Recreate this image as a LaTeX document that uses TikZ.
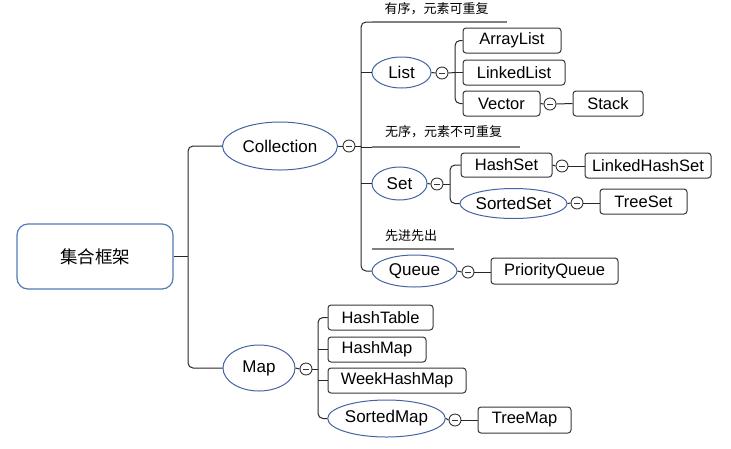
\documentclass[tikz,border=0pt]{standalone}
\usepackage{fontspec}
\setmainfont{Liberation Sans}
\newfontfamily\cjk{Noto Sans CJK SC}
\usetikzlibrary{shapes.geometric}
\definecolor{ellblue}{RGB}{68,100,165}
\definecolor{rootblue}{RGB}{80,125,180}
\definecolor{boxgray}{RGB}{55,55,55}
\definecolor{conngray}{RGB}{40,40,40}
\definecolor{ulgray}{RGB}{128,128,128}
\tikzset{
  rootbox/.style={draw=rootblue, line width=1.2pt, rounded corners=11pt, fill=white,
    minimum width=156pt, minimum height=65pt, inner sep=0pt, font=\cjk\fontsize{17.5}{20}\selectfont},
  ell/.style={ellipse, draw=ellblue, line width=1pt, inner sep=0pt, fill=white,
    font=\fontsize{17}{19}\selectfont},
  itembox/.style={rectangle, draw=boxgray, line width=1pt, rounded corners=3pt, inner sep=0pt,
    minimum height=25pt, fill=white, font=\fontsize{16.5}{19}\selectfont},
  tog/.style={circle, draw=boxgray, line width=0.9pt, minimum size=12pt, inner sep=0pt, fill=white,
    path picture={\draw[boxgray, line width=0.6pt] ([xshift=-3pt]path picture bounding box.center) -- ([xshift=3pt]path picture bounding box.center);}},
  lbl/.style={inner sep=0pt, font=\cjk\fontsize{13}{15}\selectfont},
  conn/.style={draw=conngray, line width=1pt, rounded corners=5pt},
  ul/.style={draw=ulgray, line width=2.6pt},
}
\begin{document}
\begin{tikzpicture}[x=1pt,y=-1pt]
\useasboundingbox (0,0) rectangle (731,448);
% junction coordinates
\coordinate (j0) at (188,256.5);
\coordinate (v1) at (361,146);
\coordinate (v2) at (455,72.5);
\coordinate (v3) at (450,184);
\coordinate (v4) at (318,369);
% label underline coordinates
\coordinate (u1a) at (372,22);  \coordinate (u1b) at (507,22);
\coordinate (u2a) at (372,147); \coordinate (u2b) at (520,147);
\coordinate (u3a) at (372,249); \coordinate (u3b) at (454,249);

% nodes
\node[rootbox] (root) at (95,256.5) {集合框架};
\node[ell, minimum width=115pt, minimum height=48pt] (coll) at (280,146) {Collection};
\node[ell, minimum width=72pt, minimum height=46pt] (map) at (259,368) {Map};
\node[tog] (t1) at (349,146) {};
\node[tog] (t8) at (306,369) {};

\node[lbl] (l1) at (436.5,9) {有序，元素可重复};
\node[lbl] (l2) at (443.5,132) {无序，元素不可重复};
\node[lbl] (l3) at (411,236) {先进先出};

\node[ell, minimum width=59pt, minimum height=31pt] (list) at (401.5,72.5) {List};
\node[tog] (t2) at (442,73) {};
\node[itembox, minimum width=98pt] (al) at (512,40.5) {ArrayList};
\node[itembox, minimum width=102pt] (ll) at (514,72.5) {LinkedList};
\node[itembox, minimum width=77pt] (vec) at (501.5,103.5) {Vector};
\node[tog] (t3) at (550,104) {};
\node[itembox, minimum width=70pt] (stack) at (608,103.5) {Stack};

\node[ell, minimum width=55pt, minimum height=33pt] (set) at (399.5,183.5) {Set};
\node[tog] (t4) at (437,184) {};
\node[itembox, minimum width=91pt, minimum height=24pt] (hs) at (506.5,165) {HashSet};
\node[tog] (t5) at (562,166) {};
\node[itembox, minimum width=126pt] (lhs) at (648,165.5) {LinkedHashSet};
\node[ell, minimum width=107pt, minimum height=30pt] (ss) at (513.5,203.5) {SortedSet};
\node[tog] (t6) at (577,203) {};
\node[itembox, minimum width=87pt] (ts) at (643.5,201.5) {TreeSet};

\node[ell, minimum width=85pt, minimum height=32pt] (queue) at (414.5,271) {Queue};
\node[tog] (t7) at (468,272) {};
\node[itembox, minimum width=127pt, minimum height=26pt] (pq) at (554.5,271) {PriorityQueue};

\node[itembox, minimum width=105pt] (ht) at (380.5,317.5) {HashTable};
\node[itembox, minimum width=98pt] (hm) at (377,349.5) {HashMap};
\node[itembox, minimum width=138pt] (whm) at (397,380.5) {WeekHashMap};
\node[ell, minimum width=117pt, minimum height=37pt] (sm) at (386.5,418.5) {SortedMap};
\node[tog] (t9) at (455,420) {};
\node[itembox, minimum width=93pt, minimum height=26pt] (tm) at (524.5,420) {TreeMap};

% connectors
\draw[conn] (root.east) -- (j0);
\draw[conn] (coll.west) -| (j0);
\draw[conn] (map.west) -| (j0);

\draw[conn] (coll.east) -- (t1.west);
\draw[conn] (t1.east) -- (v1);
\draw[conn] (u1a) -| (v1);
\draw[conn] (list.west) -- (list.west -| v1);
\draw[conn] (u2a) -- (u2a -| v1);
\draw[conn] (set.west) -- (set.west -| v1);
\draw[conn] (queue.west) -| (v1);

\draw[conn] (list.east) -- (t2.west);
\draw[conn] (t2.east) -- (v2);
\draw[conn] (al.west) -| (v2);
\draw[conn] (ll.west) -- (v2);
\draw[conn] (vec.west) -| (v2);
\draw[conn] (vec.east) -- (t3.west);
\draw[conn] (t3.east) -- (stack.west);

\draw[conn] (set.east) -- (t4.west);
\draw[conn] (t4.east) -- (v3);
\draw[conn] (hs.west) -| (v3);
\draw[conn] (ss.west) -| (v3);
\draw[conn] (hs.east) -- (t5.west);
\draw[conn] (t5.east) -- (t5.east -| lhs.west);
\draw[conn] (ss.east) -- (t6.west);
\draw[conn] (t6.east) -- (t6.east -| ts.west);

\draw[conn] (queue.east) -- (t7.west);
\draw[conn] (t7.east) -- (t7.east -| pq.west);

\draw[conn] (map.east) -- (t8.west);
\draw[conn] (t8.east) -- (v4);
\draw[conn] (ht.west) -| (v4);
\draw[conn] (hm.west) -- (hm.west -| v4);
\draw[conn] (whm.west) -- (whm.west -| v4);
\draw[conn] (sm.west) -| (v4);
\draw[conn] (sm.east) -- (t9.west);
\draw[conn] (t9.east) -- (t9.east -| tm.west);

% label underlines
\draw[ul] (u1a) -- (u1b);
\draw[ul] (u2a) -- (u2b);
\draw[ul] (u3a) -- (u3b);
\end{tikzpicture}
\end{document}
